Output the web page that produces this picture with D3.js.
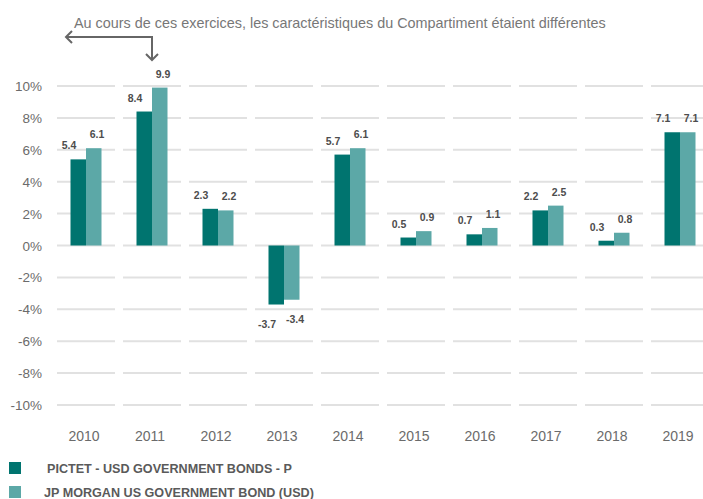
<!DOCTYPE html>
<html>
<head>
<meta charset="utf-8">
<script src="https://cdn.jsdelivr.net/npm/d3@7"></script>
<style>
  body { margin: 0; background: #fff; }
  text { font-family: "Liberation Sans", Arial, sans-serif; }
</style>
</head>
<body>
<div id="chart"></div>
<script>
var width = 703,
    height = 499;

var years = ["2010", "2011", "2012", "2013", "2014", "2015", "2016", "2017", "2018", "2019"];
var pictet = [5.4, 8.4, 2.3, -3.7, 5.7, 0.5, 0.7, 2.2, 0.3, 7.1];
var jpm = [6.1, 9.9, 2.2, -3.4, 6.1, 0.9, 1.1, 2.5, 0.8, 7.1];
var seriesNames = ["PICTET - USD GOVERNMENT BONDS - P", "JP MORGAN US GOVERNMENT BOND (USD)"];
var colors = ["#00746f", "#5ca8a7"];
var yTicks = [10, 8, 6, 4, 2, 0, -2, -4, -6, -8, -10];
var note = "Au cours de ces exercices, les caractéristiques du Compartiment étaient différentes";

var svg = d3.select("#chart").append("svg")
    .attr("width", width)
    .attr("height", height);

var x = d3.scaleBand()
    .domain(years)
    .range([53, 713]);

var y = d3.scaleLinear()
    .domain([-10, 10])
    .range([405, 86]);

var half = 15.5;
var x1 = d3.scaleBand()
    .domain([0, 1])
    .range([x.bandwidth() / 2 - half, x.bandwidth() / 2 + half]);

// segmented gridlines, one piece per year
yTicks.forEach(function(t) {
  svg.append("g").selectAll("line")
      .data(years)
    .enter().append("line")
      .attr("x1", function(d) { return x(d) + 4; })
      .attr("x2", function(d) { return x(d) + x.bandwidth() - 4; })
      .attr("y1", y(t))
      .attr("y2", y(t))
      .attr("stroke", "#e1e1e1")
      .attr("stroke-width", 2);
});

// y labels
svg.append("g").selectAll("text")
    .data(yTicks)
  .enter().append("text")
    .attr("x", 42)
    .attr("y", function(d) { return y(d) + 5; })
    .attr("text-anchor", "end")
    .attr("font-size", 13.5)
    .attr("fill", "#6b6b6b")
    .text(function(d) { return d + "%"; });

// x labels
svg.append("g").selectAll("text")
    .data(years)
  .enter().append("text")
    .attr("x", function(d) { return x(d) + x.bandwidth() / 2 - 2; })
    .attr("y", 441)
    .attr("text-anchor", "middle")
    .attr("font-size", 14)
    .attr("fill", "#6b6b6b")
    .text(function(d) { return d; });

var series = [pictet, jpm];
var labelShift = [-17, 11];

series.forEach(function(vals, s) {
  var g = svg.append("g");
  g.selectAll("rect")
      .data(vals)
    .enter().append("rect")
      .attr("x", function(d, i) { return x(years[i]) + x1(s); })
      .attr("width", x1.bandwidth())
      .attr("y", function(d) { return y(Math.max(0, d)); })
      .attr("height", function(d) { return Math.abs(y(d) - y(0)); })
      .attr("fill", colors[s]);

  g.selectAll("text")
      .data(vals)
    .enter().append("text")
      .attr("x", function(d, i) { return x(years[i]) + x.bandwidth() / 2 + labelShift[s]; })
      .attr("y", function(d) { return d >= 0 ? y(d) - 10 : y(d) + 23; })
      .attr("text-anchor", "middle")
      .attr("font-size", 10.5)
      .attr("font-weight", "bold")
      .attr("fill", "#4d4d4d")
      .text(function(d) { return d3.format(".1f")(d).replace("−", "-"); });
});

// annotation
svg.append("text")
    .attr("x", 74)
    .attr("y", 28)
    .attr("font-size", 14.4)
    .attr("fill", "#777")
    .text(note);

svg.append("path")
    .attr("d", "M66,37H152V60")
    .attr("fill", "none")
    .attr("stroke", "#666")
    .attr("stroke-width", 2);
svg.append("path")
    .attr("d", "M72,31L66,37L72,43M146,54L152,60L158,54")
    .attr("fill", "none")
    .attr("stroke", "#666")
    .attr("stroke-width", 2);

// legend
var legend = svg.append("g").selectAll("g")
    .data(seriesNames)
  .enter().append("g")
    .attr("transform", function(d, i) { return "translate(0," + (i * 24) + ")"; });

legend.append("rect")
    .attr("x", 9)
    .attr("y", 462)
    .attr("width", 12)
    .attr("height", 12)
    .attr("fill", function(d, i) { return colors[i]; });

legend.append("text")
    .attr("x", function(d, i) { return i == 0 ? 47 : 44; })
    .attr("y", 472.5)
    .attr("font-size", 12.6)
    .attr("font-weight", "bold")
    .attr("fill", "#5a5a5a")
    .text(function(d) { return d; });
</script>
</body>
</html>
